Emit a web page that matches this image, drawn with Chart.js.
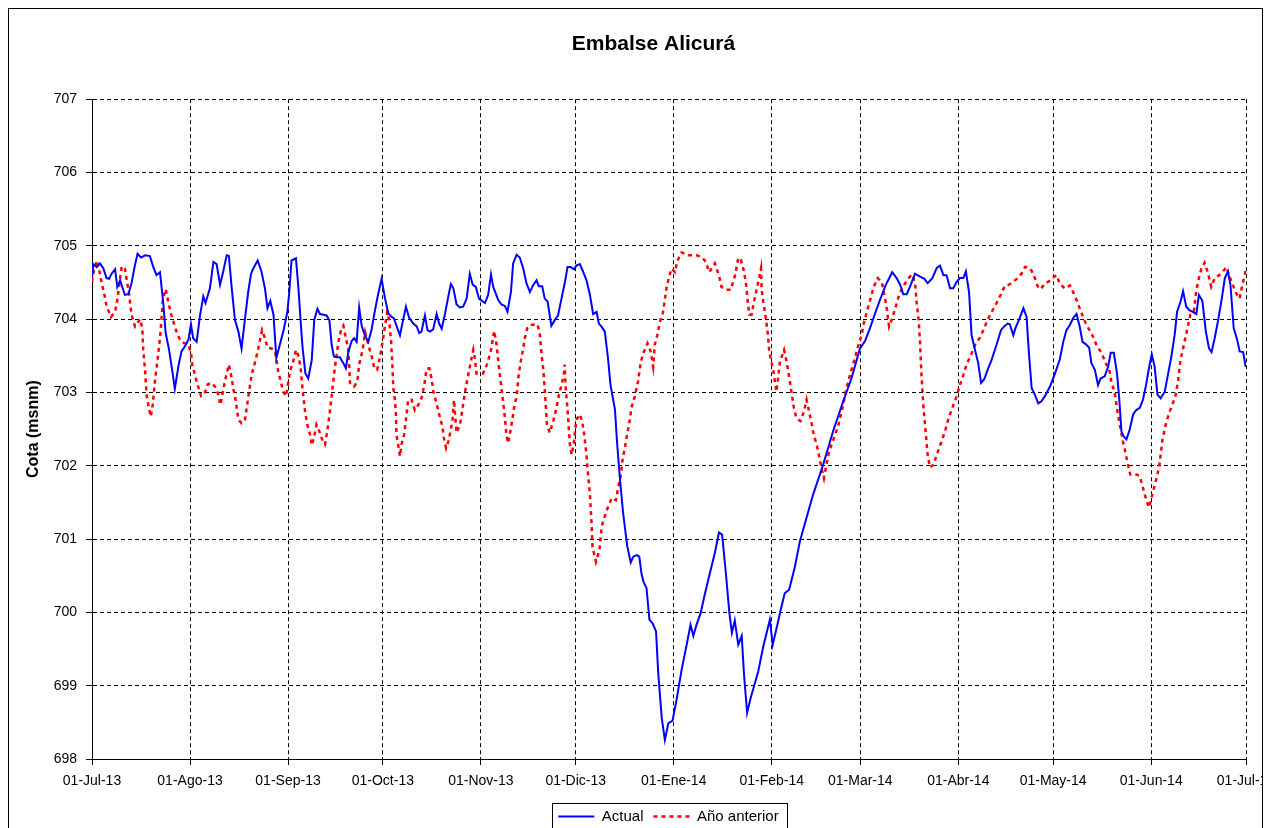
<!DOCTYPE html>
<html>
<head>
<meta charset="utf-8">
<title>Embalse Alicurá</title>
<script src="https://cdn.jsdelivr.net/npm/chart.js@4"></script>
<style>
  body { margin: 0; background: #fff; }
  #frame { position: absolute; left: 8px; top: 8px; width: 1253px; height: 830px; border: 1px solid #000; overflow: hidden; }
  #myChart { display: block; }
</style>
</head>
<body>
<div id="frame"><canvas id="myChart" width="1253" height="830"></canvas></div>
<script>
// days counted from 01-Jul-13
const monthDays = [0, 31, 62, 92, 123, 153, 184, 215, 243, 274, 304, 335, 365];
const tickLabels = ["01-Jul-13", "01-Ago-13", "01-Sep-13", "01-Oct-13", "01-Nov-13", "01-Dic-13",
  "01-Ene-14", "01-Feb-14", "01-Mar-14", "01-Abr-14", "01-May-14", "01-Jun-14", "01-Jul-14"];

const actualDays = [
  0, 0.4, 1.5, 2.5, 3.6, 4.6, 5.4, 6.2, 7.3, 8.0, 8.9, 10.4, 11.5, 12.5, 13.6, 14.4, 15.5, 16.8, 18.3, 19.4,
  20.4, 21.5, 22.5, 23.3, 24.3, 25.4, 26.2, 27.3, 28.3, 29.4, 30.5, 31.3, 32.0, 33.1, 34.1, 35.2, 35.9, 37.3, 38.4, 39.4,
  40.5, 41.5, 42.6, 43.3, 44.2, 45.2, 46.3, 47.3, 48.4, 49.4, 50.3, 51.0, 52.4, 53.6, 54.7, 55.5, 56.4, 57.4, 58.3, 59.4,
  60.5, 61.8, 62.4, 63.1, 64.5, 65.3, 66.0, 66.6, 67.5, 68.4, 69.5, 70.3, 71.3, 72.1, 73.2, 74.2, 75.1, 75.8, 76.5, 77.4,
  78.4, 79.5, 80.3, 81.1, 82.1, 82.9, 83.7, 84.5, 85.3, 86.3, 87.4, 88.4, 89.5, 90.5, 91.6, 92.7, 93.7, 94.8, 95.5, 96.3,
  97.4, 98.4, 99.3, 100.3, 101.6, 102.7, 103.5, 104.2, 105.3, 106.1, 106.9, 107.9, 109.0, 109.8, 110.6, 111.6, 112.7, 113.5, 114.3, 115.3,
  116.4, 117.4, 118.5, 119.5, 120.4, 121.4, 122.4, 124.3, 125.3, 126.2, 126.9, 128.5, 129.5, 130.6, 131.4, 132.5, 133.2, 134.3, 135.3, 136.4,
  137.4, 138.5, 139.5, 140.6, 141.3, 142.4, 143.2, 144.1, 145.3, 146.4, 147.4, 148.5, 149.6, 150.4, 151.4, 152.5, 153.2, 154.3, 155.3, 156.4,
  157.5, 158.5, 159.6, 160.3, 161.1, 162.2, 163.2, 164.0, 165.4, 166.1, 167.0, 168.0, 169.3, 170.4, 171.2, 172.3, 173.1, 173.8, 174.4, 175.4,
  176.3, 177.3, 178.4, 179.1, 180.2, 181.2, 182.3, 183.6, 184.9, 186.5, 188.1, 189.3, 190.2, 191.2, 192.5, 193.9, 195.4, 197.0, 198.3, 199.3,
  200.5, 201.6, 202.4, 203.3, 204.4, 205.5, 206.2, 207.2, 208.3, 210.7, 212.3, 214.4, 215.3, 216.5, 217.8, 219.1, 220.5, 222.3, 223.9, 228.1,
  231.3, 234.4, 237.6, 240.2, 242.9, 244.5, 246.1, 247.7, 249.2, 251.0, 253.1, 254.5, 255.6, 256.6, 257.7, 259.0, 260.3, 261.9, 263.3, 264.3,
  265.8, 267.2, 268.2, 269.3, 270.3, 271.4, 272.4, 273.5, 274.5, 275.6, 276.4, 277.4, 278.2, 279.3, 280.3, 281.2, 282.2, 283.3, 284.5, 286.1,
  287.5, 288.5, 289.6, 290.3, 291.4, 292.1, 293.2, 294.6, 295.6, 296.3, 297.2, 298.2, 299.3, 300.3, 301.4, 303.0, 304.6, 306.1, 307.2, 308.2,
  309.3, 310.3, 311.4, 312.4, 313.3, 314.3, 315.4, 316.1, 317.2, 318.2, 319.0, 320.3, 321.4, 322.2, 323.2, 324.2, 324.9, 325.6, 326.3, 327.2,
  328.2, 329.3, 330.3, 331.4, 332.4, 333.3, 334.3, 335.2, 336.1, 337.0, 338.0, 339.3, 340.3, 341.4, 342.5, 343.2, 344.3, 345.1, 346.1, 347.2,
  348.2, 349.3, 350.1, 351.2, 352.3, 353.3, 354.1, 355.1, 356.2, 357.2, 358.3, 359.3, 360.1, 361.1, 362.2, 363.0, 364.1, 364.9
];
const actualValues = [
  704.56, 704.75, 704.71, 704.76, 704.69, 704.56, 704.55, 704.62, 704.68, 704.44, 704.53, 704.33, 704.34, 704.49, 704.74, 704.89, 704.84, 704.87, 704.86, 704.71,
  704.60, 704.64, 704.24, 703.81, 703.60, 703.29, 703.05, 703.35, 703.56, 703.63, 703.72, 703.93, 703.74, 703.69, 704.03, 704.31, 704.22, 704.42, 704.78, 704.75,
  704.47, 704.65, 704.87, 704.86, 704.42, 703.99, 703.83, 703.60, 704.01, 704.37, 704.62, 704.69, 704.80, 704.65, 704.42, 704.15, 704.25, 704.06, 703.47, 703.65,
  703.83, 704.10, 704.37, 704.80, 704.83, 704.42, 703.97, 703.61, 703.26, 703.19, 703.44, 703.99, 704.14, 704.07, 704.06, 704.05, 703.98, 703.65, 703.49, 703.48,
  703.48, 703.40, 703.33, 703.56, 703.70, 703.74, 703.69, 704.16, 703.91, 703.78, 703.69, 703.85, 704.12, 704.34, 704.55, 704.28, 704.08, 704.03, 704.01, 703.91,
  703.78, 703.99, 704.17, 704.02, 703.94, 703.90, 703.81, 703.83, 704.05, 703.85, 703.83, 703.86, 704.07, 703.94, 703.87, 704.06, 704.31, 704.48, 704.42, 704.20,
  704.16, 704.17, 704.28, 704.62, 704.47, 704.44, 704.28, 704.22, 704.33, 704.61, 704.44, 704.26, 704.20, 704.18, 704.10, 704.37, 704.76, 704.88, 704.84, 704.69,
  704.49, 704.37, 704.46, 704.53, 704.45, 704.45, 704.28, 704.24, 703.91, 703.99, 704.05, 704.28, 704.51, 704.71, 704.71, 704.68, 704.73, 704.75, 704.65, 704.53,
  704.33, 704.07, 704.10, 703.94, 703.90, 703.83, 703.47, 703.10, 702.77, 702.30, 701.81, 701.35, 700.90, 700.68, 700.76, 700.78, 700.76, 700.53, 700.42, 700.33,
  699.90, 699.85, 699.74, 699.17, 698.56, 698.26, 698.49, 698.52, 698.81, 699.22, 699.56, 699.83, 699.68, 699.83, 699.99, 700.26, 700.53, 700.81, 701.09, 701.06,
  700.53, 699.99, 699.72, 699.89, 699.56, 699.68, 699.17, 698.63, 698.83, 699.19, 699.53, 699.90, 699.56, 699.78, 700.03, 700.26, 700.31, 700.62, 700.97, 701.61,
  702.02, 702.47, 702.88, 703.19, 703.60, 703.70, 703.88, 704.08, 704.26, 704.46, 704.64, 704.56, 704.47, 704.34, 704.34, 704.47, 704.62, 704.58, 704.55, 704.49,
  704.56, 704.70, 704.73, 704.60, 704.60, 704.42, 704.42, 704.51, 704.56, 704.56, 704.65, 704.37, 703.78, 703.58, 703.40, 703.13, 703.18, 703.31, 703.44, 703.65,
  703.85, 703.90, 703.94, 703.93, 703.78, 703.88, 703.99, 704.15, 704.03, 703.56, 703.06, 702.97, 702.85, 702.88, 702.95, 703.08, 703.26, 703.45, 703.69, 703.85,
  703.92, 704.01, 704.07, 703.90, 703.69, 703.66, 703.61, 703.40, 703.31, 703.10, 703.19, 703.22, 703.35, 703.54, 703.54, 703.26, 702.92, 702.47, 702.40, 702.36,
  702.49, 702.70, 702.76, 702.79, 702.90, 703.08, 703.33, 703.52, 703.35, 702.97, 702.92, 703.01, 703.24, 703.49, 703.81, 704.10, 704.24, 704.38, 704.17, 704.12,
  704.10, 704.07, 704.33, 704.25, 703.83, 703.60, 703.55, 703.74, 703.99, 704.24, 704.56, 704.65, 704.46, 703.88, 703.72, 703.56, 703.55, 703.35
];

const prevDays = [
  0, 0.6, 1.5, 2.3, 3.1, 3.9, 4.6, 6.0, 7.3, 8.0, 8.6, 9.4, 10.4, 11.0, 11.7, 12.5, 13.6, 15.2, 15.9, 16.2,
  16.8, 17.3, 18.0, 18.6, 19.2, 19.9, 20.8, 21.6, 22.4, 23.3, 24.1, 25.0, 26.0, 27.1, 28.3, 30.5, 31.3, 31.7, 33.1, 34.5,
  35.5, 36.6, 37.8, 38.9, 40.0, 40.6, 41.0, 41.8, 42.6, 43.3, 44.2, 44.7, 45.4, 46.3, 47.3, 48.4, 49.4, 50.5, 51.5, 52.6,
  53.8, 54.7, 55.5, 56.8, 57.9, 58.9, 60.5, 61.4, 62.6, 63.7, 64.5, 65.3, 66.0, 66.6, 67.4, 68.1, 69.0, 69.5, 70.2, 71.0,
  71.9, 73.0, 73.7, 74.4, 75.3, 76.1, 76.8, 77.9, 78.7, 79.5, 80.3, 81.1, 81.6, 82.9, 83.9, 84.5, 85.6, 86.4, 87.4, 88.4,
  89.3, 90.2, 91.1, 91.9, 92.8, 93.4, 94.0, 94.6, 95.0, 95.3, 95.8, 96.1, 96.3, 96.9, 97.4, 97.9, 98.7, 99.2, 100.0, 101.1,
  102.1, 103.2, 104.2, 105.1, 105.8, 106.7, 107.4, 108.0, 108.8, 109.8, 110.8, 111.3, 112.0, 112.7, 113.4, 114.0, 114.5, 115.0, 115.3, 116.4,
  116.9, 118.0, 118.7, 119.5, 120.6, 121.1, 121.6, 122.4, 123.7, 125.1, 126.2, 127.2, 127.9, 128.7, 129.5, 130.4, 131.1, 131.6, 132.5, 133.5,
  134.3, 135.0, 135.6, 136.4, 136.9, 137.7, 138.5, 140.9, 141.6, 142.2, 142.7, 143.2, 143.5, 143.9, 144.8, 145.9, 146.9, 147.7, 148.5, 149.2,
  149.5, 149.8, 150.1, 150.6, 151.1, 151.7, 152.4, 153.2, 154.3, 155.0, 155.7, 156.4, 156.9, 157.5, 158.0, 158.3, 159.4, 160.5, 161.2, 162.6,
  164.4, 165.7, 166.5, 167.2, 167.8, 168.6, 169.3, 170.1, 170.6, 171.7, 172.7, 173.6, 174.6, 175.7, 176.7, 177.5, 178.0, 178.8, 179.6, 180.6,
  181.7, 182.4, 183.3, 184.4, 185.1, 186.5, 188.6, 191.2, 192.8, 194.2, 195.2, 197.0, 198.4, 199.1, 200.7, 202.0, 203.3, 204.4, 205.1, 206.0,
  206.8, 207.4, 207.9, 208.6, 209.4, 210.2, 211.0, 211.6, 211.8, 212.3, 212.8, 213.4, 213.8, 214.2, 214.7, 215.5, 216.0, 216.5, 217.6, 218.9,
  219.7, 220.2, 220.7, 221.3, 222.0, 222.8, 224.1, 225.2, 226.0, 226.8, 227.6, 228.3, 229.2, 230.0, 230.7, 231.5, 232.3, 233.2, 233.9, 235.0,
  236.0, 236.7, 237.6, 238.4, 239.2, 240.2, 241.3, 242.3, 243.4, 244.1, 245.0, 246.1, 247.1, 248.5, 249.8, 250.6, 251.3, 252.1, 253.1, 254.2,
  255.3, 256.3, 257.7, 259.3, 260.3, 260.8, 261.4, 261.9, 262.2, 262.6, 263.0, 263.7, 264.3, 265.0, 266.1, 267.2, 268.5, 269.8, 270.8, 272.1,
  273.5, 274.5, 275.6, 276.6, 278.0, 279.3, 280.9, 282.4, 283.7, 285.1, 286.1, 287.5, 288.8, 290.0, 291.4, 292.8, 294.0, 295.1, 296.1, 297.2,
  298.2, 299.3, 300.1, 301.4, 302.5, 303.7, 305.1, 306.1, 307.7, 309.3, 310.3, 311.6, 313.0, 314.5, 316.1, 317.7, 319.3, 320.6, 321.7, 322.4,
  323.5, 324.5, 325.3, 326.1, 327.2, 328.4, 329.8, 331.4, 332.4, 333.3, 334.3, 335.1, 336.1, 337.0, 337.7, 338.6, 339.6, 340.7, 341.7, 342.8,
  343.5, 344.2, 345.1, 345.9, 346.7, 347.4, 348.5, 349.3, 350.1, 350.9, 351.9, 353.0, 354.0, 355.1, 356.5, 357.7, 358.8, 359.8, 360.9, 361.9,
  363.0, 363.8, 364.6, 365.0
];
const prevValues = [
  704.51, 704.66, 704.80, 704.66, 704.49, 704.34, 704.18, 704.03, 704.10, 704.26, 704.46, 704.72, 704.69, 704.53, 704.35, 704.06, 703.90, 704.00, 703.88, 703.58,
  703.29, 702.95, 702.79, 702.67, 702.83, 703.15, 703.47, 703.78, 704.26, 704.41, 704.24, 704.07, 703.93, 703.78, 703.69, 703.65, 703.54, 703.38, 703.15, 702.95,
  702.97, 703.11, 703.13, 703.08, 702.97, 702.83, 702.92, 703.10, 703.26, 703.38, 703.19, 703.05, 702.90, 702.63, 702.58, 702.63, 702.93, 703.24, 703.40, 703.60,
  703.85, 703.74, 703.61, 703.60, 703.56, 703.29, 703.01, 702.95, 703.29, 703.43, 703.58, 703.50, 703.33, 703.04, 702.74, 702.56, 702.42, 702.28, 702.38, 702.56,
  702.47, 702.33, 702.29, 702.47, 702.76, 703.07, 703.33, 703.68, 703.84, 703.91, 703.74, 703.58, 703.13, 703.08, 703.15, 703.38, 703.58, 703.82, 703.65, 703.50,
  703.33, 703.31, 703.49, 703.69, 703.94, 704.10, 703.99, 703.70, 703.38, 703.06, 702.90, 702.74, 702.42, 702.27, 702.13, 702.29, 702.42, 702.59, 702.90, 702.90,
  702.76, 702.83, 702.92, 703.10, 703.32, 703.33, 703.19, 703.01, 702.88, 702.70, 702.54, 702.38, 702.24, 702.33, 702.47, 702.61, 702.90, 702.61, 702.45, 702.56,
  702.70, 703.01, 703.17, 703.35, 703.58, 703.47, 703.26, 703.26, 703.26, 703.40, 703.58, 703.84, 703.67, 703.35, 703.06, 702.74, 702.42, 702.31, 702.51, 702.79,
  702.95, 703.26, 703.42, 703.60, 703.74, 703.88, 703.92, 703.93, 703.81, 703.51, 703.33, 703.04, 702.83, 702.56, 702.45, 702.61, 702.79, 702.97, 703.10, 703.24,
  703.38, 703.08, 702.92, 702.65, 702.31, 702.15, 702.31, 702.63, 702.70, 702.61, 702.42, 702.15, 701.88, 701.60, 701.22, 700.90, 700.69, 700.85, 701.17, 701.37,
  701.56, 701.53, 701.72, 701.85, 702.08, 702.26, 702.44, 702.62, 702.79, 702.95, 703.15, 703.42, 703.56, 703.67, 703.56, 703.35, 703.65, 703.78, 703.96, 704.09,
  704.42, 704.56, 704.69, 704.64, 704.79, 704.91, 704.87, 704.87, 704.85, 704.78, 704.64, 704.76, 704.58, 704.44, 704.40, 704.40, 704.58, 704.83, 704.83, 704.69,
  704.51, 704.24, 704.06, 704.06, 704.24, 704.40, 704.56, 704.69, 704.40, 704.24, 704.11, 703.92, 703.78, 703.56, 703.46, 703.29, 703.15, 703.01, 703.42, 703.58,
  703.42, 703.29, 703.16, 702.99, 702.79, 702.65, 702.61, 702.74, 702.90, 702.74, 702.58, 702.42, 702.29, 702.13, 701.97, 701.83, 702.02, 702.20, 702.29, 702.42,
  702.54, 702.67, 702.83, 703.01, 703.15, 703.31, 703.47, 703.63, 703.78, 703.94, 704.09, 704.26, 704.42, 704.56, 704.51, 704.33, 704.17, 703.90, 704.01, 704.17,
  704.33, 704.42, 704.53, 704.61, 704.51, 704.24, 704.01, 703.69, 703.38, 703.06, 702.79, 702.45, 702.15, 701.98, 702.01, 702.15, 702.31, 702.47, 702.63, 702.79,
  702.95, 703.10, 703.24, 703.38, 703.51, 703.65, 703.75, 703.90, 704.03, 704.14, 704.22, 704.34, 704.46, 704.47, 704.51, 704.56, 704.62, 704.71, 704.71, 704.66,
  704.56, 704.43, 704.41, 704.49, 704.51, 704.56, 704.60, 704.48, 704.42, 704.46, 704.37, 704.24, 704.08, 703.92, 703.81, 703.65, 703.54, 703.40, 703.33, 703.15,
  702.99, 702.70, 702.51, 702.33, 702.11, 701.88, 701.89, 701.86, 701.70, 701.56, 701.43, 701.56, 701.73, 701.88, 702.04, 702.36, 702.56, 702.72, 702.83, 702.97,
  703.15, 703.42, 703.60, 703.76, 703.92, 704.06, 704.10, 704.40, 704.56, 704.69, 704.77, 704.62, 704.44, 704.56, 704.60, 704.65, 704.71, 704.58, 704.46, 704.35,
  704.28, 704.46, 704.60, 704.69
];

const toPoints = (days, values) => days.map((d, i) => ({ x: d, y: values[i] }));

Chart.defaults.font.family = "'Liberation Sans', Arial, sans-serif";
Chart.defaults.color = "#000";

// move title and legend to where the original sits, and box the legend
const legendFrame = {
  id: "legendFrame",
  afterLayout(chart) {
    chart.titleBlock.left += 22;
    chart.titleBlock.right += 22;
    chart.legend.left += 37;
    chart.legend.right += 37;
  },
  afterDraw(chart) {
    const boxes = chart.legend.legendHitBoxes;
    if (!boxes || !boxes.length) return;
    const left = Math.min(...boxes.map(b => b.left)) - 6;
    const right = Math.max(...boxes.map(b => b.left + b.width)) + 9;
    const top = boxes[0].top - 6;
    const c = chart.ctx;
    c.save();
    c.strokeStyle = "#000";
    c.lineWidth = 1;
    c.strokeRect(Math.round(left) + 0.5, Math.round(top) + 0.5, Math.round(right - left), 60);
    c.restore();
  }
};

const gridStyle = { color: "#000", lineWidth: 1, tickColor: "#000", tickLength: 6, tickBorderDash: [] };
const borderStyle = { color: "#000", width: 1, dash: [4, 3] };

const ctx = document.getElementById("myChart");
new Chart(ctx, {
  type: "line",
  data: {
    datasets: [
      {
        label: "Actual",
        data: toPoints(actualDays, actualValues),
        borderColor: "#0000FF",
        backgroundColor: "#0000FF",
        borderWidth: 2,
        pointRadius: 0,
        tension: 0,
      },
      {
        label: "Año anterior",
        data: toPoints(prevDays, prevValues),
        borderColor: "#FF0000",
        backgroundColor: "#FF0000",
        borderWidth: 2.5,
        borderDash: [4, 4],
        pointRadius: 0,
        tension: 0,
      },
    ],
  },
  options: {
    responsive: false,
    animation: false,
    devicePixelRatio: 1,
    layout: { padding: { left: 8, right: 16, top: 0, bottom: 5 } },
    plugins: {
      title: {
        display: true,
        text: "Embalse Alicurá",
        color: "#000",
        font: { size: 21, weight: "bold" },
        padding: { top: 23, bottom: 42 },
      },
      legend: {
        position: "bottom",
        labels: {
          usePointStyle: true,
          pointStyle: "line",
          pointStyleWidth: 36,
          padding: 10,
          color: "#000",
          font: { size: 15 },
          // point style legends take the point's style, so give back the line's dash and width
          generateLabels: (chart) =>
            Chart.defaults.plugins.legend.labels.generateLabels(chart).map((item) => {
              const ds = chart.data.datasets[item.datasetIndex];
              return { ...item, lineDash: ds.borderDash || [], lineWidth: ds.borderWidth, strokeStyle: ds.borderColor };
            }),
        },
      },
      tooltip: { enabled: false },
    },
    scales: {
      x: {
        type: "linear",
        min: 0,
        max: 365,
        afterBuildTicks: (s) => { s.ticks = monthDays.map(v => ({ value: v })); },
        afterFit: (s) => { s.height = 40; s.paddingLeft = 0; s.paddingRight = 0; },
        ticks: {
          autoSkip: false,
          maxRotation: 0,
          padding: 8,
          color: "#000",
          font: { size: 14 },
          callback: (v, i) => tickLabels[i],
        },
        grid: gridStyle,
        border: borderStyle,
      },
      y: {
        min: 698,
        max: 707,
        afterFit: (s) => { s.width = 75; },
        ticks: { stepSize: 1, padding: 9, color: "#000", font: { size: 14 } },
        grid: gridStyle,
        border: borderStyle,
        title: {
          display: true,
          text: "Cota (msnm)",
          color: "#000",
          font: { size: 16, weight: "bold" },
          padding: { top: 7, bottom: 0 },
        },
      },
    },
  },
  plugins: [legendFrame],
});
</script>
</body>
</html>
